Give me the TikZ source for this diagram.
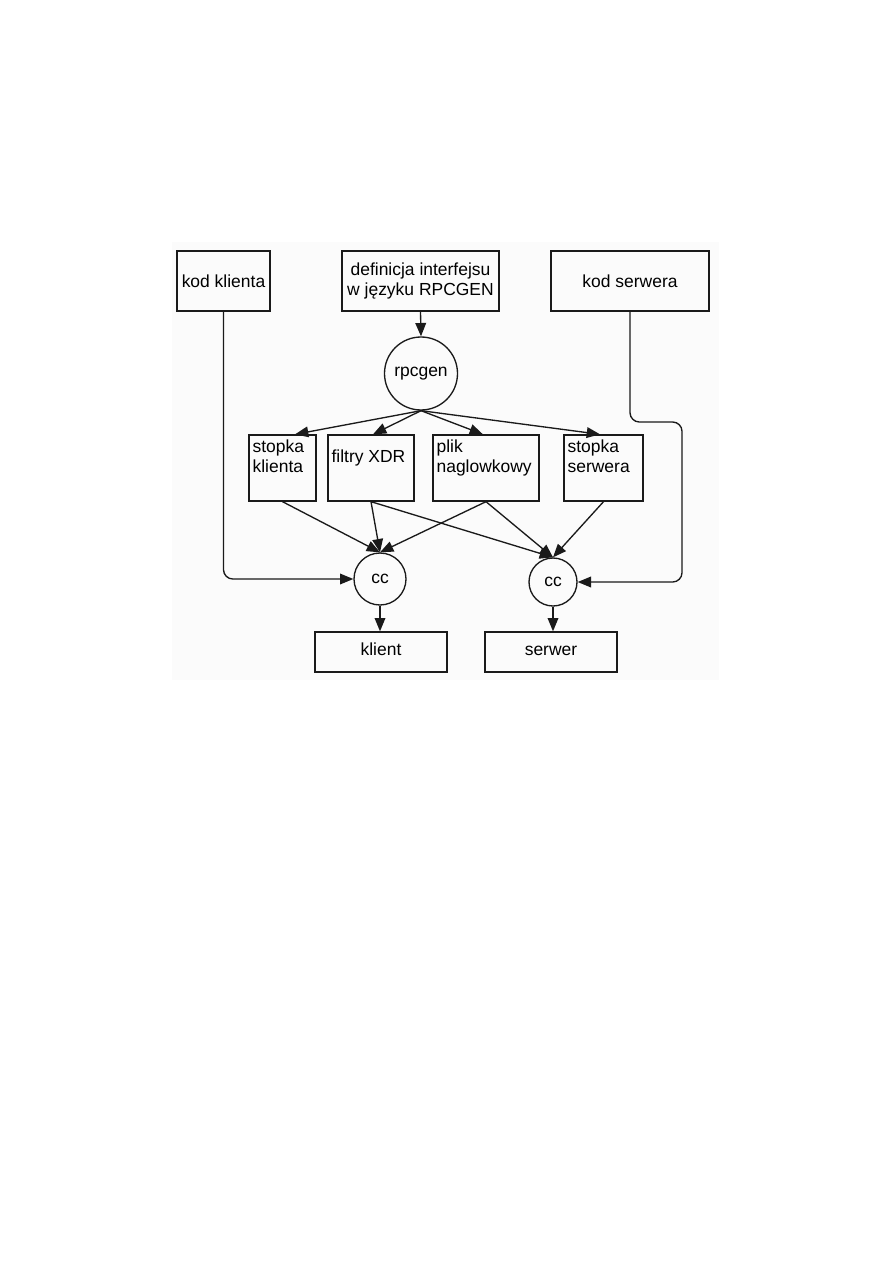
\documentclass[tikz,border=0pt]{standalone}
\usepackage{fontspec}
\setmainfont{Liberation Sans}
\usetikzlibrary{arrows.meta,calc,positioning}
\definecolor{RPCLine}{HTML}{1A1A1A}
\definecolor{RPCPanel}{HTML}{FBFBFB}

\begin{document}
\begin{tikzpicture}[
    x=0.75pt,y=-0.75pt,
    box/.style={draw=RPCLine,line width=1pt,inner sep=0pt,align=center,
      font=\fontsize{13.1pt}{15.5pt}\selectfont},
    proc/.style={circle,draw=RPCLine,line width=1pt,inner sep=0pt,
      font=\fontsize{13.1pt}{15.5pt}\selectfont},
    boxtext/.style={anchor=north west,inner sep=0pt,align=left,
      font=\fontsize{13.1pt}{15.5pt}\selectfont},
    arrow/.style={-{Triangle[length=10pt,width=8pt]},line width=1pt,color=RPCLine}
  ]
    \useasboundingbox (0,0) rectangle (893,1263);
    \fill[RPCPanel] (172,242) rectangle (719,680);

    % inputs
    \node[box,minimum width=69.75pt,minimum height=45pt] (kodK) at (223.5,281) {kod klienta};
    \node[box,minimum width=117.75pt,minimum height=45pt] (defin) at (420.5,281) {definicja interfejsu\\w języku RPCGEN};
    \node[box,minimum width=118.5pt,minimum height=45pt] (kodS) at (630,281) {kod serwera};
    \node[proc,minimum size=54.75pt] (rpcgen) at (421,373.5) {rpcgen};

    % generated files
    \node[box,minimum width=50.25pt,minimum height=49.5pt] (stopkaK) at (282.5,468) {};
    \node[box,minimum width=64.5pt,minimum height=49.5pt] (filtry) at (371,468) {};
    \node[box,minimum width=79.5pt,minimum height=49.5pt] (plik) at (486,468) {};
    \node[box,minimum width=59.25pt,minimum height=49.5pt] (stopkaS) at (603.5,468) {};
    \node[boxtext] (stopkaKtext) at ($(stopkaK.north west)+(4,5)$) {stopka\\klienta};
    \node[boxtext] (filtrytext) at ($(filtry.north west)+(4,15.5)$) {filtry XDR};
    \node[boxtext] (pliktext) at ($(plik.north west)+(4,5)$) {plik\\naglowkowy};
    \node[boxtext] (stopkaStext) at ($(stopkaS.north west)+(4,5)$) {stopka\\serwera};

    % compilers and results
    \node[proc,minimum size=39pt] (ccK) at (380,579) {cc};
    \node[proc,minimum size=36pt] (ccS) at (553,582) {cc};
    \node[box,minimum width=99pt,minimum height=30pt,text height=0.72em,text depth=0.2em] (klient) at (381,652) {klient};
    \node[box,minimum width=99pt,minimum height=30pt,text height=0.72em,text depth=0.2em] (serwer) at (551,652) {serwer};

    \coordinate (jog) at (682,422);

    \draw[arrow] (defin.south) -- (rpcgen.north);
    \draw[arrow] (rpcgen.south) -- ([xshift=9.4pt]stopkaK.north);
    \draw[arrow] (rpcgen.south) -- ([xshift=1.5pt]filtry.north);
    \draw[arrow] (rpcgen.south) -- ([xshift=-2.3pt]plik.north);
    \draw[arrow] (rpcgen.south) -- ([xshift=-2.6pt]stopkaS.north);

    \draw[arrow] (stopkaK.south) -- (ccK.north);
    \draw[arrow] (filtry.south) -- (ccK.north);
    \draw[arrow] (plik.south) -- (ccK.north);
    \draw[arrow] (filtry.south) -- (ccS.north);
    \draw[arrow] (plik.south) -- (ccS.north);
    \draw[arrow] (stopkaS.south) -- (ccS.north);

    \draw[arrow,rounded corners=7pt] (kodK.south) |- (ccK.west);
    \draw[arrow,rounded corners=7pt] (kodS.south) |- (jog) |- (ccS.east);

    \draw[arrow] (ccK.south) -- (ccK.south |- klient.north);
    \draw[arrow] (ccS.south) -- (ccS.south |- serwer.north);
  \end{tikzpicture}
\end{document}
